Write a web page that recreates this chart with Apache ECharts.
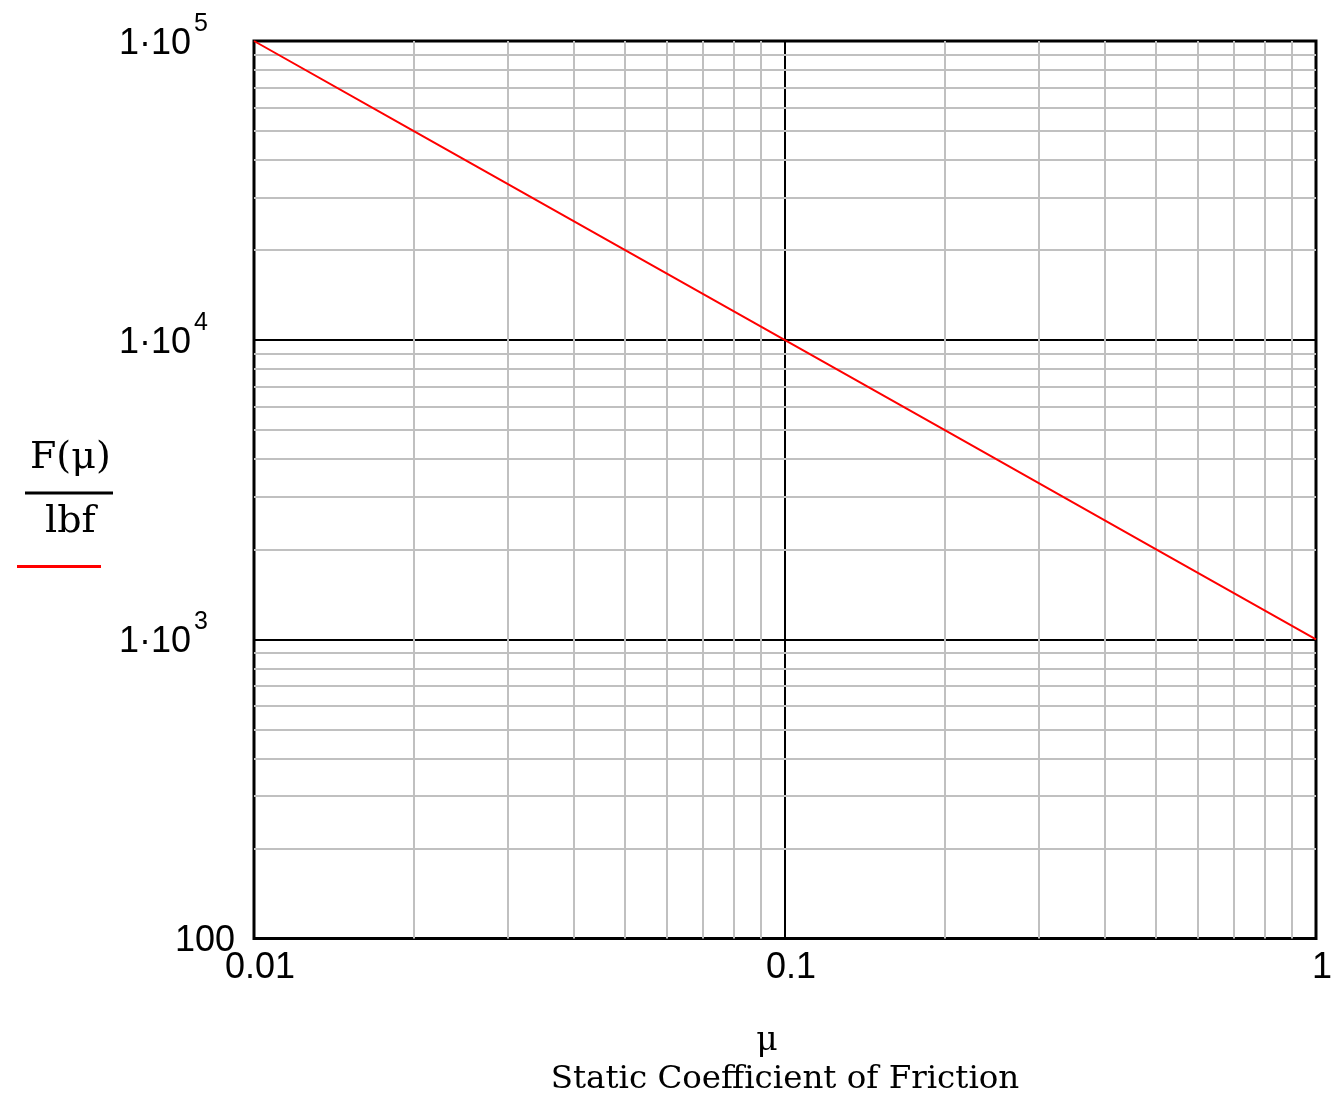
<!DOCTYPE html>
<html>
<head>
<meta charset="utf-8">
<script src="https://cdn.jsdelivr.net/npm/echarts@6/dist/echarts.min.js"></script>
<style>
  html, body { margin: 0; padding: 0; background: #fff; }
  #chart { width: 1343px; height: 1101px; }
</style>
</head>
<body>
<div id="chart"></div>
<script>
// friction coefficient vs. force
const muValues = [0.01, 0.02, 0.05, 0.1, 0.2, 0.5, 1];
const forceValues = [100000, 50000, 20000, 10000, 5000, 2000, 1000];
// minor grid positions (2..9 per decade)
const xMinor = [0.02, 0.03, 0.04, 0.05, 0.06, 0.07, 0.08, 0.09, 0.2, 0.3, 0.4, 0.5, 0.6, 0.7, 0.8, 0.9];
const yMinor = [200, 300, 400, 500, 600, 700, 800, 900,
  2000, 3000, 4000, 5000, 6000, 7000, 8000, 9000,
  20000, 30000, 40000, 50000, 60000, 70000, 80000, 90000];
const xName = "μ";
const xTitle = "Static Coefficient of Friction";

let myChart = echarts.init(document.getElementById("chart"));
let option = {
  animation: false,
  backgroundColor: "#fff",
  grid: {
    left: 254,
    top: 41,
    right: 27,
    bottom: 157,
    show: true,
    borderColor: "#000",
    borderWidth: 3
  },
  legend: {
    left: 12,
    top: 560,
    data: ["F"],
    icon: "rect",
    itemWidth: 84,
    itemHeight: 3,
    formatter: () => "",
    selectedMode: false
  },
  graphic: [
    {
      type: "text",
      left: 30,
      top: 439,
      style: { text: "F(μ)", font: "38px 'DejaVu Serif'", fill: "#000" }
    },
    {
      type: "line",
      shape: { x1: 25, y1: 493, x2: 113, y2: 493 },
      style: { stroke: "#000", lineWidth: 3 }
    },
    {
      type: "text",
      left: 45,
      top: 503,
      style: { text: "lbf", font: "38px 'DejaVu Serif'", fill: "#000" }
    }
  ],
  xAxis: {
    type: "log",
    logBase: 10,
    min: 0.01,
    max: 1,
    name: "{mu|" + xName + "}\n{t|" + xTitle + "}",
    nameLocation: "middle",
    nameGap: 84,
    nameTextStyle: {
      rich: {
        mu: { fontFamily: "DejaVu Serif", fontSize: 33, lineHeight: 38, color: "#000", padding: [0, 36, 0, 0] },
        t: { fontFamily: "DejaVu Serif", fontSize: 32.5, lineHeight: 38, color: "#000" }
      }
    },
    axisLine: { show: false },
    axisTick: { show: false },
    axisLabel: {
      fontFamily: "Liberation Sans",
      fontSize: 36,
      color: "#000",
      margin: 12,
      padding: [0, 0, 0, 12],
      formatter: (v) => String(v)
    },
    splitLine: { show: true, lineStyle: { color: "#000", width: 2 } }
  },
  yAxis: {
    type: "log",
    logBase: 10,
    min: 100,
    max: 100000,
    axisLine: { show: false },
    axisTick: { show: false },
    axisLabel: {
      fontFamily: "Liberation Sans",
      fontSize: 36,
      color: "#000",
      margin: 19,
      formatter: (v) => {
        if (v <= 100) return "{b|100}";
        let e = Math.round(Math.log10(v));
        return "{b|1·10}{s|" + e + "}";
      },
      rich: {
        b: { fontFamily: "Liberation Sans", fontSize: 36, lineHeight: 40, color: "#000", padding: [6, 0, 0, 0] },
        s: { fontFamily: "Liberation Sans", fontSize: 25, lineHeight: 25, color: "#000", padding: [0, 27, 34, 3] }
      }
    },
    splitLine: { show: true, lineStyle: { color: "#000", width: 2 } }
  },
  series: [
    {
      name: "grid",
      type: "line",
      data: [],
      silent: true,
      z: 1,
      markLine: {
        silent: true,
        symbol: "none",
        animation: false,
        label: { show: false },
        lineStyle: { color: "#c0c0c0", width: 2, type: "solid" },
        data: xMinor.map((x) => ({ xAxis: x })).concat(yMinor.map((y) => ({ yAxis: y })))
      }
    },
    {
      name: "F",
      type: "line",
      z: 5,
      data: muValues.map((m, i) => [m, forceValues[i]]),
      showSymbol: false,
      color: "#ff0000",
      lineStyle: { color: "#ff0000", width: 2 }
    }
  ]
};
myChart.setOption(option);
window.addEventListener("resize", function() {
  myChart.resize();
});
</script>
</body>
</html>
